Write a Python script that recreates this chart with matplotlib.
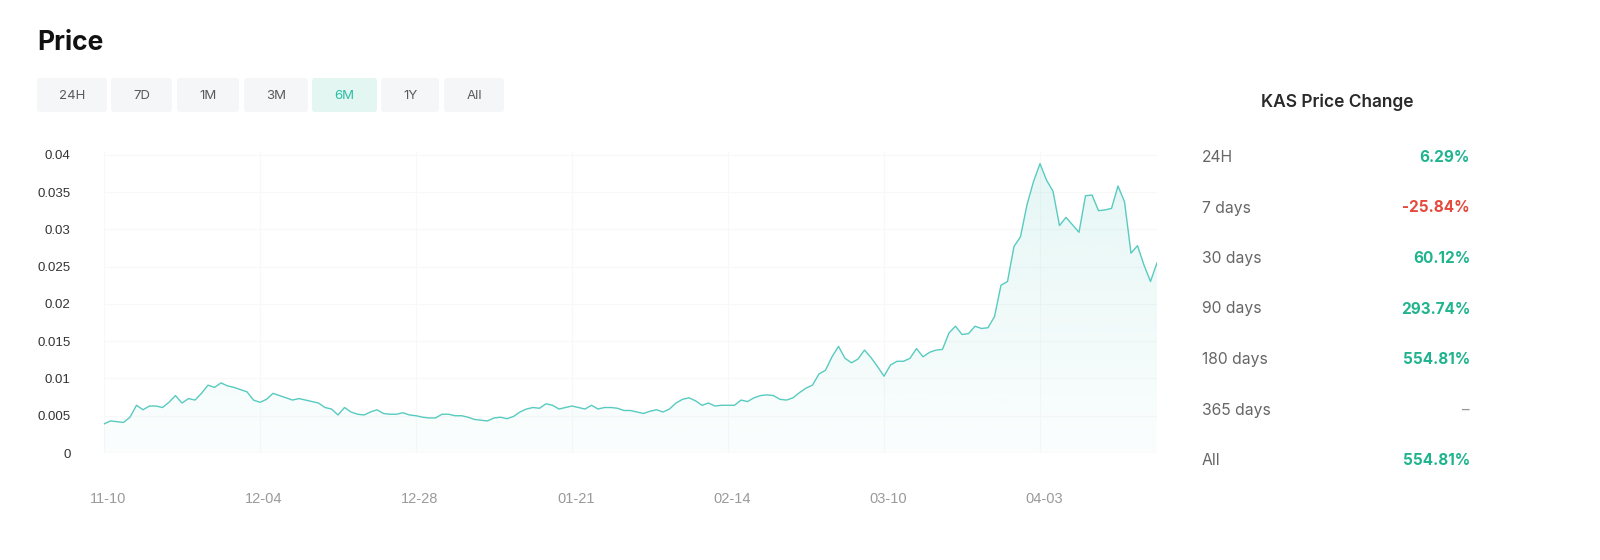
import numpy as np
import pandas as pd
import matplotlib
matplotlib.use("Agg")
import matplotlib.pyplot as plt
import matplotlib.dates as mdates
from matplotlib.patches import FancyBboxPatch
from matplotlib.transforms import ScaledTranslation

# daily KAS price (starts 11-10)
prices = [
    0.0039, 0.0043, 0.0042, 0.0041, 0.0048, 0.0064, 0.0058, 0.0063, 0.0063, 0.0061,
    0.0068, 0.0077, 0.0067, 0.0073, 0.0071, 0.0080, 0.0091, 0.0088, 0.0094, 0.0090,
    0.0088, 0.0085, 0.0082, 0.0071, 0.0068, 0.0072, 0.0080, 0.0077, 0.0074, 0.0071,
    0.0073, 0.0071, 0.0069, 0.0067, 0.0061, 0.0059, 0.0051, 0.0061, 0.0055, 0.0052,
    0.0051, 0.0055, 0.0058, 0.0053, 0.0052,
    0.0052, 0.0054, 0.0051, 0.0050, 0.0048, 0.0047, 0.0047, 0.0052, 0.0052, 0.0050,
    0.0050, 0.0048, 0.0045, 0.0044, 0.0043, 0.0047, 0.0048, 0.0046, 0.0049, 0.0055,
    0.0059, 0.0061, 0.0060, 0.0066, 0.0064, 0.0059, 0.0061, 0.0063, 0.0061, 0.0059,
    0.0064, 0.0059, 0.0061, 0.0061, 0.0060, 0.0057, 0.0057, 0.0055, 0.0053, 0.0056,
    0.0058, 0.0055, 0.0059, 0.0067, 0.0072, 0.0074,
    0.0070, 0.0064, 0.0067, 0.0063, 0.0064, 0.0064, 0.0064, 0.0071, 0.0069, 0.0074,
    0.0077, 0.0078, 0.0077, 0.0072, 0.0071, 0.0074, 0.0081, 0.0087, 0.0091, 0.0106,
    0.0111, 0.0129, 0.0143, 0.0127, 0.0121, 0.0126, 0.0138, 0.0128, 0.0116, 0.0103,
    0.0118, 0.0123, 0.0123, 0.0127, 0.0140, 0.0129, 0.0135, 0.0138, 0.0139, 0.0161,
    0.0170, 0.0159, 0.0160, 0.0170, 0.0167, 0.0168, 0.0183, 0.0225, 0.0230,
    0.0277, 0.0290, 0.0333, 0.0364, 0.0388, 0.0366, 0.0351, 0.0305, 0.0316, 0.0306,
    0.0296, 0.0345, 0.0346, 0.0325, 0.0326, 0.0328, 0.0358, 0.0337, 0.0268, 0.0278,
    0.0252, 0.0230, 0.0255,
]
start_date = "2022-11-10"

y_ticks = [0, 0.005, 0.01, 0.015, 0.02, 0.025, 0.03, 0.035, 0.04]
y_tick_labels = ["0", "0.005", "0.01", "0.015", "0.02", "0.025", "0.03", "0.035", "0.04"]
x_tick_dates = ["2022-11-10", "2022-12-04", "2022-12-28", "2023-01-21",
                "2023-02-14", "2023-03-10", "2023-04-03"]
x_tick_labels = ["11-10", "12-04", "12-28", "01-21", "02-14", "03-10", "04-03"]

ranges = ["24H", "7D", "1M", "3M", "6M", "1Y", "All"]
active_range = "6M"

periods = ["24H", "7 days", "30 days", "90 days", "180 days", "365 days", "All"]
changes = [6.29, -25.84, 60.12, 293.74, 554.81, None, 554.81]

LINE = "#58cbc0"
GREEN = "#1fb48e"
RED = "#e5493b"
UI_FONT = ["Inter", "DejaVu Sans"]
TICK_FONT = ["Liberation Sans", "DejaVu Sans"]

W, H = 1600, 560
fig = plt.figure(figsize=(W / 100, H / 100), dpi=100)
fig.patch.set_facecolor("white")

# ---- chart ----
ax = fig.add_axes([104 / W, 107 / H, 1053 / W, 302 / H])
dates = pd.date_range(start_date, periods=len(prices), freq="D")
xnum = mdates.date2num(dates)
ymax = 0.0405

ax.plot(dates, prices, color=LINE, lw=1.0, zorder=3)
poly = ax.fill_between(dates, prices, 0, color="none", lw=0)

# vertical gradient under the line, strongest at the top
grad = np.zeros((256, 1, 4))
grad[:, 0, :3] = matplotlib.colors.to_rgb(LINE)
grad[:, 0, 3] = np.linspace(0.16, 0.025, 256)
img = ax.imshow(grad, extent=[xnum[0], xnum[-1], 0, ymax], aspect="auto",
                origin="upper", zorder=2)
img.set_clip_path(poly.get_paths()[0], transform=ax.transData)

ax.set_xlim(xnum[0], xnum[-1])
ax.set_ylim(0, ymax)
ax.set_yticks(y_ticks)
ax.set_yticklabels(y_tick_labels)
ax.set_xticks(pd.to_datetime(x_tick_dates))
ax.set_xticklabels(x_tick_labels)
ax.grid(True, color="#f8f8f9", lw=0.8)
ax.set_axisbelow(True)
for s in ax.spines.values():
    s.set_visible(False)
ax.tick_params(axis="both", length=0)
ax.tick_params(axis="y", pad=24, labelsize=9.5, labelcolor="#333333")
ax.tick_params(axis="x", pad=28, labelsize=10.5, labelcolor="#9a9a9a")
shift = ScaledTranslation(4 / 100, 0, fig.dpi_scale_trans)
for lab in ax.get_xticklabels():
    lab.set_family(TICK_FONT)
    lab.set_transform(lab.get_transform() + shift)
for lab in ax.get_yticklabels():
    lab.set_family(TICK_FONT)

# ---- title, buttons and side panel (pixel coordinates) ----
ui = fig.add_axes([0, 0, 1, 1])
ui.set_xlim(0, W)
ui.set_ylim(H, 0)
ui.axis("off")

ui.text(37, 43, "Price", fontsize=19, fontweight="bold", color="#111111",
        family=UI_FONT, va="center", ha="left")

btn_x = [(37, 107), (111, 172), (177, 239), (244, 308), (312, 377), (381, 439), (444, 504)]
for (x0, x1), name in zip(btn_x, ranges):
    on = name == active_range
    ui.add_patch(FancyBboxPatch((x0, 78), x1 - x0, 34,
                                boxstyle="round,pad=0,rounding_size=3",
                                fc="#e3f6f2" if on else "#f5f6f7", ec="none"))
    ui.text((x0 + x1) / 2, 96, name, fontsize=9.5, family=UI_FONT,
            color="#2bbfa4" if on else "#5a5a5a", ha="center", va="center")

ui.text(1337, 102, "KAS Price Change", fontsize=12.5, fontweight="semibold",
        color="#2a2a2a", family=UI_FONT, ha="center", va="center")

for i, (p, c) in enumerate(zip(periods, changes)):
    y = 157.5 + i * 50.5
    ui.text(1202, y, p, fontsize=11.3, color="#666666", family=UI_FONT,
            ha="left", va="center")
    if c is None:
        txt, col, wt = "–", "#999999", "normal"
    else:
        txt, col, wt = f"{c:.2f}%", (GREEN if c >= 0 else RED), "bold"
    ui.text(1470, y, txt, fontsize=11, color=col, fontweight=wt,
            family=UI_FONT, ha="right", va="center")

fig.savefig("out.png", dpi=100, facecolor="white")
